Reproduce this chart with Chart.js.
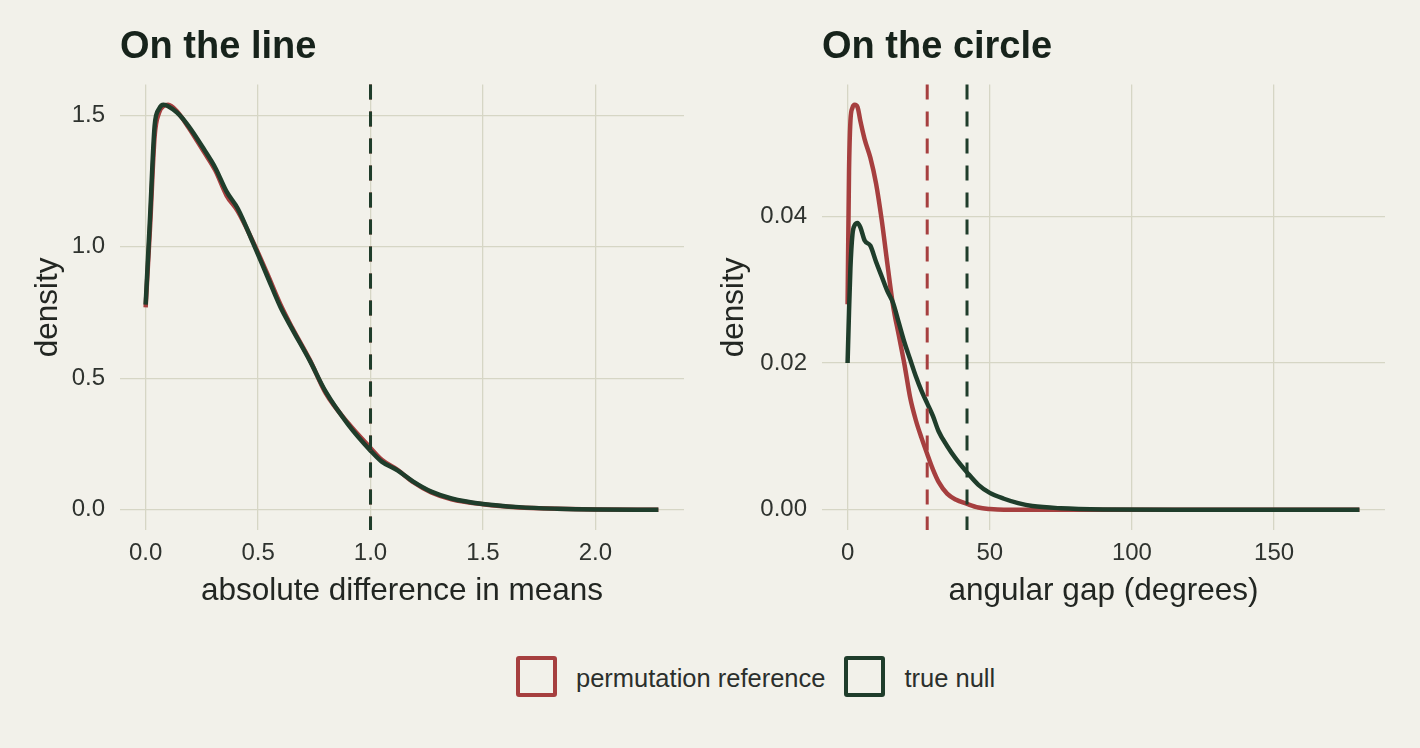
<!DOCTYPE html>
<html>
<head>
<meta charset="utf-8">
<script src="https://cdn.jsdelivr.net/npm/chart.js@4.4.1/dist/chart.umd.min.js"></script>
<style>
    html, body { margin: 0; padding: 0; background: #f2f1ea; }
    body { width: 1420px; height: 748px; position: relative; overflow: hidden; font-family: "Liberation Sans", Arial, sans-serif; }
    #lineBox { position: absolute; left: 0; top: 0; width: 700px; height: 620px; }
    #circleBox { position: absolute; left: 700px; top: 0; width: 720px; height: 620px; }
    .legend { position: absolute; left: 516px; top: 656px; display: flex; align-items: center; height: 41px; }
    .legend .key { width: 33px; height: 33px; border: 4px solid; border-radius: 3px; margin-right: 19px; }
    .legend .lab { font-size: 25.5px; color: #2b2f2c; margin-right: 19px; position: relative; top: 2px; }
</style>
</head>
<body>
<div id="lineBox"><canvas id="lineChart" width="700" height="620"></canvas></div>
<div id="circleBox"><canvas id="circleChart" width="720" height="620"></canvas></div>
<div class="legend">
    <div class="key" style="border-color:#a63f3f"></div><span class="lab">permutation reference</span>
    <div class="key" style="border-color:#1f3d2b"></div><span class="lab">true null</span>
</div>
<script>
// Panel 1: on the line
const lineX = [0, 0.02, 0.04, 0.06, 0.08, 0.1, 0.14, 0.19, 0.26, 0.31, 0.36, 0.41, 0.48, 0.54, 0.6, 0.65, 0.73, 0.8, 0.9, 1.0, 1.05, 1.12, 1.19, 1.27, 1.36, 1.5, 1.66, 1.83, 2.0, 2.28];
const linePerm = [0.77, 1.08, 1.42, 1.51, 1.535, 1.54, 1.515, 1.455, 1.36, 1.29, 1.195, 1.135, 1.015, 0.9, 0.78, 0.695, 0.57, 0.445, 0.33, 0.235, 0.19, 0.152, 0.105, 0.066, 0.04, 0.021, 0.009, 0.004, 0.001, 0.0];
const lineNull = [0.78, 1.12, 1.46, 1.525, 1.54, 1.535, 1.51, 1.46, 1.37, 1.30, 1.21, 1.145, 1.01, 0.89, 0.77, 0.69, 0.567, 0.45, 0.325, 0.225, 0.183, 0.15, 0.107, 0.069, 0.043, 0.022, 0.01, 0.004, 0.001, 0.0];
const lineCutoffs = [1.0, 1.0]; // perm, null
const lineXTicks = [0, 0.5, 1.0, 1.5, 2.0];
const lineYTicks = [0, 0.5, 1.0, 1.5];

// Panel 2: on the circle
const circleX = [0, 0.5, 1, 1.7, 2.5, 3.5, 4.5, 6, 8, 10, 12, 14, 16, 18, 20, 22, 24, 26, 28, 30, 32, 35, 38, 42, 46, 50, 55, 60, 65, 75, 90, 120, 150, 180];
const circlePerm = [0.028, 0.046, 0.053, 0.0548, 0.0552, 0.0549, 0.053, 0.0505, 0.048, 0.0445, 0.0395, 0.0335, 0.0278, 0.0238, 0.0198, 0.0153, 0.0122, 0.0098, 0.0076, 0.0055, 0.0038, 0.0022, 0.0014, 0.0008, 0.0003, 0.0001, 0, 0, 0, 0, 0, 0, 0, 0];
const circleNull = [0.020, 0.027, 0.033, 0.0375, 0.0388, 0.0391, 0.0385, 0.0367, 0.036, 0.0338, 0.0318, 0.0298, 0.0282, 0.0255, 0.0228, 0.0205, 0.0182, 0.0162, 0.0145, 0.0128, 0.0107, 0.0087, 0.007, 0.0051, 0.0034, 0.0023, 0.0015, 0.0009, 0.0005, 0.0002, 0.00005, 0, 0, 0];
const circleCutoffs = [28, 42]; // perm, null
const circleXTicks = [0, 50, 100, 150];
const circleYTicks = [0, 0.02, 0.04];

const RED = '#a63f3f';
const GREEN = '#1f3d2b';
const GRID = '#d6d6c5';

Chart.defaults.font.family = '"Liberation Sans", Arial, sans-serif';
Chart.defaults.color = '#2f332f';

// ggplot-style 5% expansion
const expand = (vals) => {
    const lo = Math.min(...vals), hi = Math.max(...vals);
    const pad = (hi - lo) * 0.05;
    return { min: lo - pad, max: hi + pad };
};

const toPoints = (xs, ys) => xs.map((x, i) => ({ x: x, y: ys[i] }));

// dashed vertical cut-off lines
const vlinePlugin = {
    id: 'vlines',
    afterDatasetsDraw(chart, args, opts) {
        const { ctx, chartArea, scales } = chart;
        opts.lines.forEach(l => {
            const x = scales.x.getPixelForValue(l.value);
            ctx.save();
            ctx.strokeStyle = l.color;
            ctx.lineWidth = 3;
            ctx.setLineDash([15, 12]);
            ctx.beginPath();
            ctx.moveTo(x, chartArea.top);
            ctx.lineTo(x, chartArea.bottom);
            ctx.stroke();
            ctx.restore();
        });
    }
};

const makeChart = (id, cfg) => {
    const xr = expand(cfg.x);
    const yr = expand(cfg.perm.concat(cfg.nul));
    return new Chart(document.getElementById(id), {
        type: 'scatter',
        data: {
            datasets: [
                // green drawn on top of red
                { label: 'permutation reference', data: toPoints(cfg.x, cfg.perm), borderColor: RED, order: 1 },
                { label: 'true null', data: toPoints(cfg.x, cfg.nul), borderColor: GREEN, order: 0 }
            ].map(d => Object.assign(d, {
                showLine: true, pointRadius: 0, borderWidth: 4.5,
                cubicInterpolationMode: 'monotone', fill: false
            }))
        },
        plugins: [vlinePlugin],
        options: {
            responsive: false,
            animation: false,
            layout: { padding: { left: 0, right: cfg.padRight, top: 0, bottom: 0 } },
            plugins: {
                legend: { display: false },
                tooltip: { enabled: false },
                title: {
                    display: true, text: cfg.title, align: 'start', fullSize: false,
                    color: '#17231b', font: { size: 38, weight: 'bold' },
                    padding: { top: 25, bottom: 14 }
                },
                vlines: {
                    lines: [
                        { value: cfg.cut[0], color: RED },
                        { value: cfg.cut[1], color: GREEN }
                    ]
                }
            },
            scales: {
                x: {
                    type: 'linear', min: xr.min, max: xr.max,
                    afterBuildTicks: axis => { axis.ticks = cfg.xTicks.map(v => ({ value: v })); },
                    afterFit: axis => { axis.height = 90; },
                    grid: { color: GRID, lineWidth: 1.3, drawTicks: false },
                    border: { display: false },
                    ticks: { padding: 9, font: { size: 24 }, maxRotation: 0, callback: cfg.xFmt },
                    title: { display: true, text: cfg.xTitle, font: { size: 31.5 }, color: '#222622', padding: { top: 0, bottom: 10 } }
                },
                y: {
                    type: 'linear', min: yr.min, max: yr.max,
                    afterBuildTicks: axis => { axis.ticks = cfg.yTicks.map(v => ({ value: v })); },
                    afterFit: axis => { axis.width = cfg.yWidth; },
                    grid: { color: GRID, lineWidth: 1.3, drawTicks: false },
                    border: { display: false },
                    ticks: { padding: 15, font: { size: 24 }, callback: cfg.yFmt },
                    title: { display: true, text: 'density', font: { size: 31.5 }, color: '#222622', padding: { top: cfg.yTitlePad, bottom: 0 } }
                }
            }
        }
    });
};

makeChart('lineChart', {
    title: 'On the line', x: lineX, perm: linePerm, nul: lineNull, cut: lineCutoffs,
    xTicks: lineXTicks, yTicks: lineYTicks,
    xFmt: v => v.toFixed(1), yFmt: v => v.toFixed(1),
    xTitle: 'absolute difference in means', yWidth: 120, yTitlePad: 29, padRight: 16
});

makeChart('circleChart', {
    title: 'On the circle', x: circleX, perm: circlePerm, nul: circleNull, cut: circleCutoffs,
    xTicks: circleXTicks, yTicks: circleYTicks,
    xFmt: v => String(v), yFmt: v => v.toFixed(2),
    xTitle: 'angular gap (degrees)', yWidth: 122, yTitlePad: 15, padRight: 35
});
</script>
</body>
</html>
